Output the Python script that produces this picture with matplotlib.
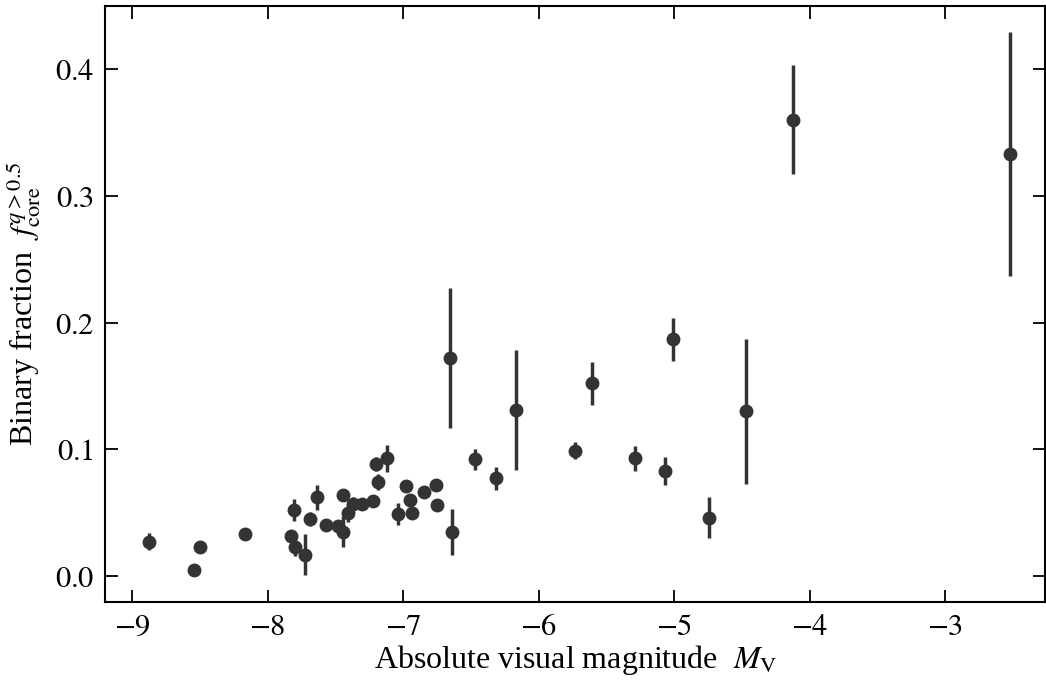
import matplotlib
matplotlib.use("Agg")
import matplotlib.pyplot as plt
from matplotlib.ticker import FuncFormatter

# absolute visual magnitude, binary fraction, symmetric error
mv = [-8.875, -8.545, -8.496, -8.166, -7.824, -7.807, -7.795, -7.726, -7.686, -7.635,
      -7.566, -7.480, -7.445, -7.443, -7.409, -7.372, -7.305, -7.219, -7.199, -7.187,
      -7.116, -7.035, -6.978, -6.946, -6.938, -6.847, -6.756, -6.747, -6.655, -6.636,
      -6.466, -6.314, -6.166, -5.735, -5.605, -5.285, -5.066, -5.007, -4.746, -4.466,
      -4.120, -2.520]
frac = [0.027, 0.0045, 0.0226, 0.033, 0.0316, 0.052, 0.0226, 0.017, 0.045, 0.062,
        0.040, 0.0395, 0.064, 0.035, 0.050, 0.057, 0.057, 0.059, 0.0887, 0.074,
        0.093, 0.049, 0.071, 0.060, 0.050, 0.066, 0.072, 0.056, 0.172, 0.035,
        0.092, 0.077, 0.131, 0.099, 0.152, 0.093, 0.083, 0.187, 0.046, 0.130,
        0.360, 0.333]
err = [0.0066, 0.001, 0.002, 0.002, 0.003, 0.0088, 0.0066, 0.016, 0.0053, 0.0097,
       0.002, 0.002, 0.002, 0.012, 0.007, 0.005, 0.002, 0.002, 0.0055, 0.0062,
       0.0105, 0.009, 0.002, 0.002, 0.002, 0.002, 0.002, 0.002, 0.055, 0.018,
       0.008, 0.009, 0.047, 0.007, 0.017, 0.010, 0.011, 0.017, 0.016, 0.057,
       0.043, 0.096]

xticks = [-9, -8, -7, -6, -5, -4, -3]
yticks = [0.0, 0.1, 0.2, 0.3, 0.4]

plt.rcParams["font.family"] = "Liberation Serif"
plt.rcParams["mathtext.fontset"] = "stix"

fig = plt.figure(figsize=(10.46, 6.8), dpi=100)
ax = fig.add_axes([0.1004, 0.115, 0.899, 0.8766])

ax.errorbar(mv, frac, yerr=err, fmt="o", color="#333333", ms=9,
            elinewidth=2.5, capsize=0)

ax.set_xlim(-9.2, -2.26)
ax.set_ylim(-0.0203, 0.450)
ax.set_xticks(xticks)
ax.set_yticks(yticks)
ax.xaxis.set_major_formatter(FuncFormatter(lambda v, p: r"$%d$" % round(v)))
ax.yaxis.set_major_formatter(FuncFormatter(lambda v, p: r"$%.1f$" % v))

ax.tick_params(direction="in", top=True, right=True, length=9, width=1.3, labelsize=22, pad=8)
for s in ax.spines.values():
    s.set_linewidth(1.5)

ax.set_xlabel(r"Absolute visual magnitude  $M_{\rm V}$", fontsize=23, labelpad=1)
ax.set_ylabel(r"Binary fraction  $f^{q>0.5}_{\rm core}$", fontsize=23, labelpad=8)

fig.savefig("out.png", dpi=100)
